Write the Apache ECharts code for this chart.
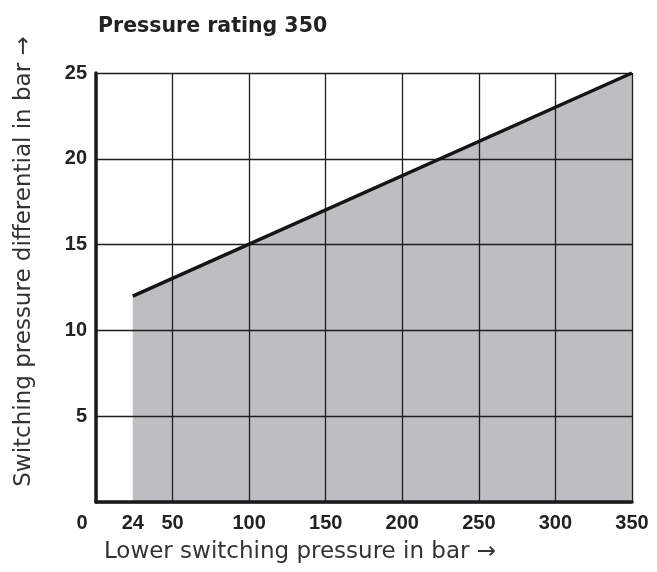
<!DOCTYPE html>
<html><head><meta charset="utf-8">
<script src="https://cdn.jsdelivr.net/npm/echarts@6/dist/echarts.min.js"></script>
<style>html,body{margin:0;padding:0;background:#fff}#c{width:657px;height:572px}</style>
</head><body><div id="c"></div>
<script>
const xLabels = [0, 24, 50, 100, 150, 200, 250, 300, 350];
const yLabels = [5, 10, 15, 20, 25];
const lineX = [24, 350];
const lineY = [12, 25];
const title = 'Pressure rating 350';
const xName = 'Lower switching pressure in bar \u2192';
const yName = 'Switching pressure differential in bar \u2192';

const data = lineX.map((x, i) => [x, lineY[i]]);
const numFont = '"Liberation Sans", Arial, sans-serif';
const textFont = '"DejaVu Sans", sans-serif';
const chart = echarts.init(document.getElementById('c'));
chart.setOption({
  animation: false,
  title: { text: title, left: 93, top: 11, textStyle: { fontFamily: textFont, fontWeight: 'bold', fontSize: 20.5, color: '#222' } },
  grid: { left: 96, right: 25, top: 73, bottom: 70, containLabel: false },
  xAxis: {
    type: 'value', min: 0, max: 350, interval: 50, z: 2,
    name: xName, nameLocation: 'middle', nameGap: 39,
    nameTextStyle: { fontFamily: textFont, fontSize: 23, color: '#333', padding: [0, 128, 0, 0] },
    axisLine: { show: true, onZero: false, lineStyle: { color: '#1a1a1a', width: 3.5 } },
    axisTick: { show: false },
    splitLine: { show: true, lineStyle: { color: '#1e1e1e', width: 1.3 } },
    axisLabel: {
      customValues: xLabels, margin: 11,
      fontFamily: numFont, fontWeight: 'bold', fontSize: 20, color: '#222',
      formatter: v => v === 0 ? '{z|0}' : String(v),
      rich: { z: { fontFamily: numFont, fontWeight: 'bold', fontSize: 20, color: '#222', padding: [0, 28, 0, 0] } }
    }
  },
  yAxis: {
    type: 'value', min: 0, max: 25, interval: 5, z: 2,
    name: yName, nameLocation: 'middle', nameGap: 60, nameRotate: 90,
    nameTextStyle: { fontFamily: textFont, fontSize: 23, color: '#333', padding: [0, 0, 0, 52] },
    axisLine: { show: true, onZero: false, lineStyle: { color: '#1a1a1a', width: 3.5 } },
    axisTick: { show: false },
    splitLine: { show: true, lineStyle: { color: '#1e1e1e', width: 1.3 } },
    axisLabel: {
      margin: 9, fontFamily: numFont, fontWeight: 'bold', fontSize: 20, color: '#222',
      formatter: v => yLabels.indexOf(v) >= 0 ? String(v) : ''
    }
  },
  series: [
    { type: 'line', data: data, z: 1, symbol: 'none', lineStyle: { width: 0 }, areaStyle: { color: '#bdbec2', opacity: 1 } },
    { type: 'line', data: data, z: 3, symbol: 'none', lineStyle: { color: '#151515', width: 3.5 } }
  ]
});
</script></body></html>
